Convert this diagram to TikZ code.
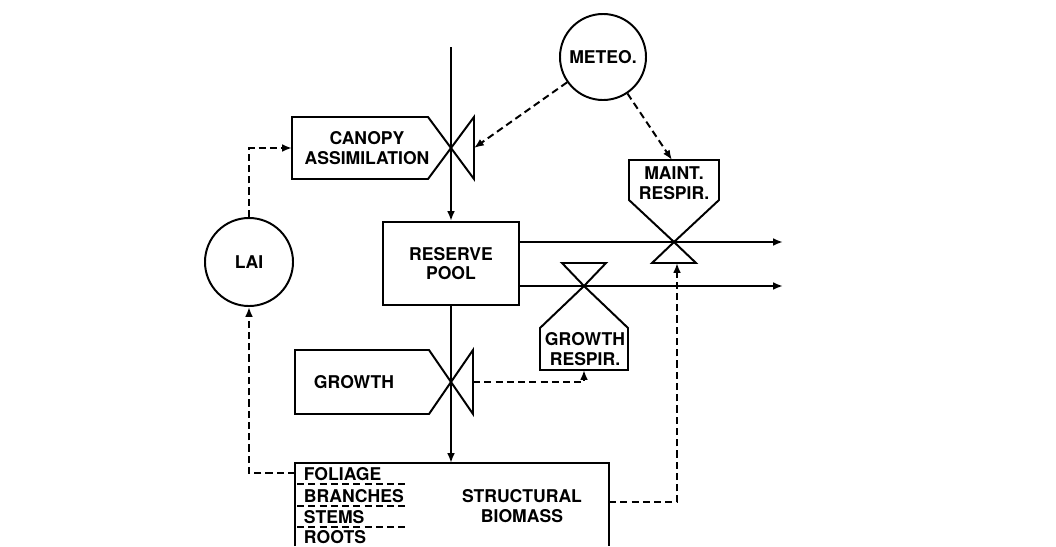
\documentclass[tikz,border=0pt]{standalone}
\usepackage{fontspec}
\setmainfont{TeX Gyre Heros}
\usetikzlibrary{arrows.meta}

\begin{document}
\begin{tikzpicture}[x=0.025cm, y=-0.025cm, line width=1.4pt,
    lbl/.style={font=\fontsize{12.5}{14}\selectfont\bfseries, align=center, inner sep=0pt},
    flow/.style={-{Latex[length=7pt,width=5.5pt]}},
    info/.style={dash pattern=on 5pt off 3pt, -{Latex[length=7pt,width=5.5pt]}},
    store/.style={draw, rectangle, lbl},
    aux/.style={draw, circle, lbl}]
    \useasboundingbox (0,0) rectangle (1056,546);
    % state variables and driving variables
    \node[store, minimum width=3.4cm, minimum height=2.075cm] (pool) at (451,263.5) {RESERVE\\POOL};
    \node[aux, minimum size=2.2cm] (lai) at (249,262) {LAI};
    \node[aux, minimum size=2.15cm] (meteo) at (603,57) {METEO.};
    % canopy assimilation with its valve
    \coordinate (ctip) at (451,148); \coordinate (cin) at (292,148); \coordinate (cout) at (474,148);
    \draw (292,117) -- (428,117) -- (ctip) -- (428,179) -- (292,179) -- cycle;
    \draw (ctip) -- (474,117) -- (474,179) -- cycle;
    \node[lbl] (canopy) at (367,148) {CANOPY\\ASSIMILATION};
    % growth with its valve
    \coordinate (gtip) at (451,382); \coordinate (gout) at (473,382);
    \draw (295,350) -- (429,350) -- (gtip) -- (429,414) -- (295,414) -- cycle;
    \draw (gtip) -- (473,350) -- (473,414) -- cycle;
    \node[lbl] (growth) at (354,382) {GROWTH};
    % maintenance respiration
    \coordinate (mtip) at (674,242); \coordinate (mtop) at (672,160); \coordinate (mbase) at (677,263);
    \draw (629,160) -- (719,160) -- (719,200) -- (mtip) -- (629,200) -- cycle;
    \draw (mtip) -- (652,263) -- (696,263) -- cycle;
    \node[lbl] (maint) at (674,183) {MAINT.\\RESPIR.};
    % growth respiration
    \coordinate (rtip) at (584,286); \coordinate (rbot) at (584,370);
    \draw (rtip) -- (628,328) -- (628,370) -- (540,370) -- (540,328) -- cycle;
    \draw (rtip) -- (562,263) -- (606,263) -- cycle;
    \node[lbl] (grespir) at (585,349) {GROWTH\\RESPIR.};
    % structural biomass, running off the page
    \coordinate (sbn) at (451,463); \coordinate (sbw) at (295,473); \coordinate (sbe) at (609,502);
    \draw (295,546) -- (295,463) -- (609,463) -- (609,546);
    \foreach \y in {484,506,527} {\draw[dash pattern=on 5pt off 3pt, line width=1.1pt] (297,\y) -- (409,\y);}
    \foreach \t/\y in {FOLIAGE/474, BRANCHES/496, STEMS/517, ROOTS/537} {\node[lbl, anchor=west] (\t) at (303,\y) {\t};}
    \node[lbl] (sbtext) at (522,506) {STRUCTURAL\\BIOMASS};
    % material flows
    \coordinate (src) at (451,47); \coordinate (outm) at (783,242); \coordinate (outg) at (783,286);
    \draw[flow] (src) -- (pool.north);
    \draw[flow] (pool.south) -- (sbn);
    \draw[flow] (pool.east |- outm) -- (outm);
    \draw[flow] (pool.east |- outg) -- (outg);
    % information flows
    \draw[info] (meteo) -- (cout);
    \draw[info] (meteo) -- (mtop);
    \draw[info] (lai.north) |- (cin);
    \draw[info] (sbw) -| (lai.south);
    \draw[info] (sbe) -| (mbase);
    \draw[info] (gout) -| (rbot);
\end{tikzpicture}
\end{document}
